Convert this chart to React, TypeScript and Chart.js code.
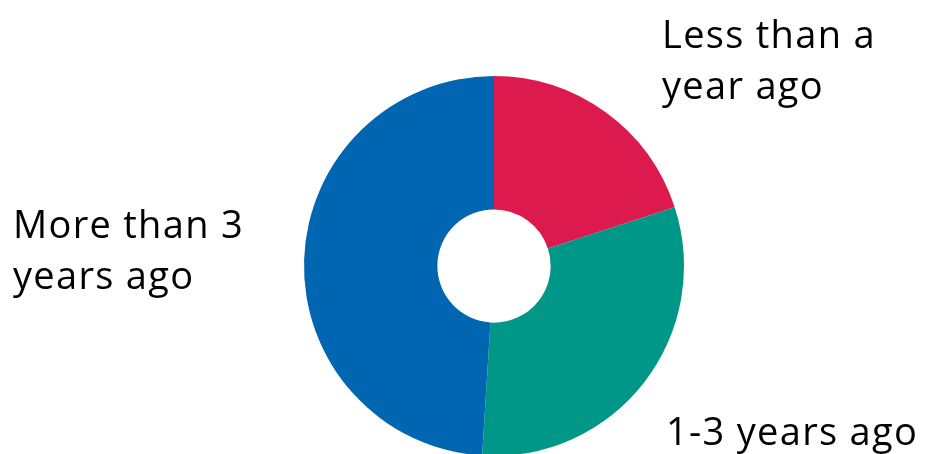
import React, { useEffect, useRef } from "react";
import { Chart, registerables } from "chart.js";

Chart.register(...registerables);

const categories = ["Less than a year ago", "1-3 years ago", "More than 3 years ago"];
const values = [20, 31, 49];
const colors = ["#DC1A4E", "#009688", "#0066B2"];
const labelLines = [["Less than a", "year ago"], ["1-3 years ago"], ["More than 3", "years ago"]];

const labelPlugin = {
  id: "sliceLabels",
  afterDraw(chart: any) {
    const ctx = chart.ctx;
    const pos = [
      { x: 662, y: 48 },
      { x: 666, y: 445 },
      { x: 13, y: 238 },
    ];
    ctx.save();
    ctx.fillStyle = "#000000";
    ctx.font = '38px "Open Sans"';
    (ctx as any).letterSpacing = "1.3px";
    ctx.textAlign = "left";
    ctx.textBaseline = "alphabetic";
    labelLines.forEach((lines, i) => {
      lines.forEach((line, j) => {
        ctx.fillText(line, pos[i].x, pos[i].y + j * 51);
      });
    });
    ctx.restore();
  },
};

export default function App() {
  const ref = useRef<HTMLCanvasElement>(null);
  useEffect(() => {
    document.body.style.margin = "0";
    const chart = new Chart(ref.current!, {
      type: "doughnut",
      data: {
        labels: categories,
        datasets: [
          {
            data: values,
            backgroundColor: colors,
            borderWidth: 0,
          },
        ],
      },
      options: {
        responsive: false,
        animation: false,
        cutout: "29.8%",
        layout: { padding: { left: 304, right: 241, top: 76, bottom: 4 } },
        plugins: { legend: { display: false }, tooltip: { enabled: false } },
      },
      plugins: [labelPlugin],
    });
    return () => chart.destroy();
  }, []);
  return (
    <div style={{ width: 925, height: 454, overflow: "hidden", position: "relative", background: "#fff" }}>
      <canvas ref={ref} width={925} height={460} style={{ display: "block" }} />
    </div>
  );
}
